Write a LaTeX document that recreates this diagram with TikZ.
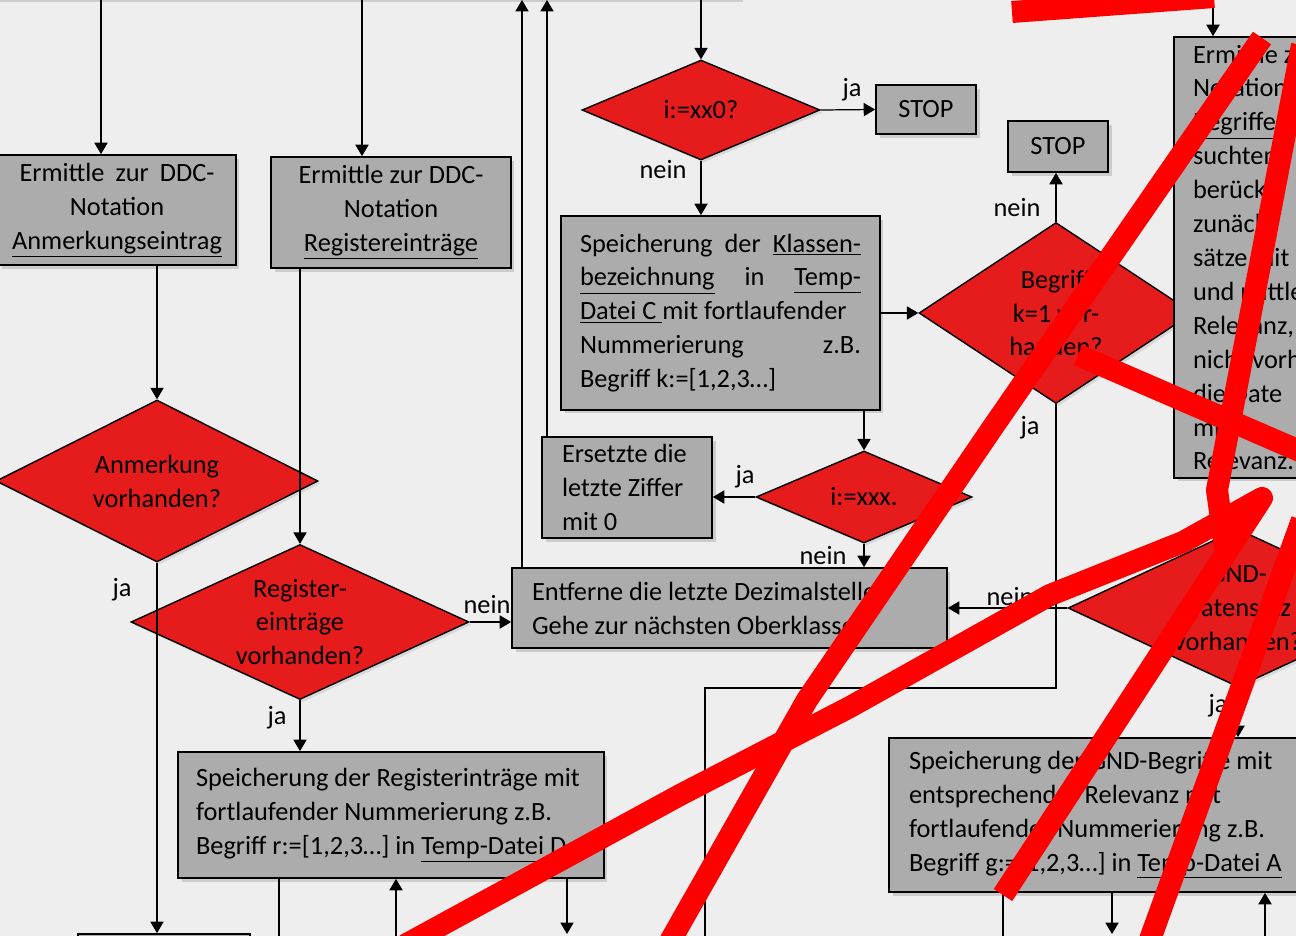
\documentclass[tikz,border=0pt]{standalone}
\usepackage{fontspec}
\setmainfont{Carlito}
\usetikzlibrary{shapes.geometric,arrows.meta,shadows}
\definecolor{bggray}{HTML}{EEEEEE}
\definecolor{boxgray}{HTML}{ACACAC}
\definecolor{decred}{HTML}{E61C1C}
\definecolor{scribble}{HTML}{FF0000}
\newcommand{\txt}{\fontsize{15}{19.3}\selectfont}
\newcommand{\jline}[1]{{\spaceskip=0pt\xspaceskip=0pt\makebox[5.62cm][s]{#1}}}

\begin{document}
\begin{tikzpicture}[x=0.02cm,y=-0.02cm,
    every node/.style={font=\txt,execute at begin node={\spaceskip=0pt\xspaceskip=0pt}},
    box/.style={draw,line width=1pt,fill=boxgray,inner sep=0pt,
      drop shadow={shadow xshift=2pt,shadow yshift=-2pt,opacity=0.3}},
    lbox/.style={box,align=left,inner xsep=0.4cm},
    dec/.style={diamond,draw,line width=0.8pt,fill=decred,inner sep=0pt,
      drop shadow={shadow xshift=1.5pt,shadow yshift=-1.5pt,opacity=0.2}},
    arr/.style={line width=0.7pt,-{Triangle[length=6.5pt,width=7.5pt]}},
    ln/.style={line width=0.7pt},
    scrib/.style={draw=scribble,line width=0.44cm,line join=round}]
      \useasboundingbox (0,0) rectangle (1296,936);
      \fill[bggray] (0,0) rectangle (1296,936);
      \draw
        (360,-42) node[box,minimum width=15.2cm,minimum height=1.6cm] (bTop) {}
        (164,984) node[box,minimum width=3.44cm,minimum height=2cm] (bBot) {};
      \draw
        (157,481) node[dec,minimum width=6.44cm,minimum height=3.24cm,
          label={[align=center]center:{Anmerkung\\vorhanden?}}] (dAnm) {}
        (300,622) node[dec,minimum width=6.76cm,minimum height=3.1cm,
          label={[align=center]center:{Register-\\einträge\\vorhanden?}}] (dReg) {}
        (701,110) node[dec,minimum width=4.76cm,minimum height=2cm,
          label={center:i:=xx0?}] (dXX0) {}
        (1056,313) node[dec,minimum width=5.48cm,minimum height=3.62cm,
          label={[align=center]center:{Begriff\\k=1 vor-\\handen?}}] (dBeg) {}
        (864,497) node[dec,minimum width=4.32cm,minimum height=1.84cm,
          label={center:i:=xxx.}] (dXXX) {}
        (1238,608) node[dec,minimum width=6.8cm,minimum height=3.16cm,
          label={[align=center]center:{GND-\\Datensatz\\vorhanden?}}] (dGND) {};
      \draw
        (117,210) node[box,minimum width=4.76cm,minimum height=2.2cm,align=center] (bAnm)
          {\makebox[3.9cm][s]{Ermittle zur DDC-}\\Notation\\\underline{Anmerkungseintrag}}
        (391,212.5) node[box,minimum width=4.8cm,minimum height=2.22cm,align=center] (bReg)
          {Ermittle zur DDC-\\Notation\\\underline{Registereinträge}}
        (720.5,313) node[lbox,text width=5.62cm,inner xsep=0.38cm,minimum height=3.88cm] (bKla)
          {\jline{Speicherung der \underline{Klassen-}}\\
           \jline{\underline{bezeichnung} in \underline{Temp-}}\\
           \underline{Datei C\ }mit fortlaufender\\
           \jline{Nummerierung z.B.}\\
           Begriff k:=[1,2,3…]}
        (926,109.5) node[box,minimum width=2cm,minimum height=0.98cm] (bStop1) {STOP}
        (1058,146.5) node[box,minimum width=2cm,minimum height=1.02cm] (bStop2) {STOP}
        (627,487.5) node[lbox,text width=2.6cm,minimum height=2.02cm] (bErs)
          {Ersetzte die\\letzte Ziffer\\mit 0}
        (729.5,608) node[lbox,text width=7.9cm,minimum height=1.6cm] (bEnt)
          {Entferne die letzte Dezimalstelle\\Gehe zur nächsten Oberklasse}
        (391,815) node[lbox,inner xsep=0.36cm,text width=7.8cm,minimum height=2.52cm] (bSpR)
          {Speicherung der Registerinträge mit\\fortlaufender Nummerierung z.B.\\
           Begriff r:=[1,2,3…] in \underline{Temp-Datei D}}
        (1109.5,815) node[lbox,text width=8.02cm,minimum height=3.08cm] (bSpG)
          {Speicherung der GND-Begriffe mit\\entsprechender Relevanz mit\\
           fortlaufender Nummerierung z.B.\\Begriff g:=[1,2,3…] in \underline{Temp-Datei A}}
        (1257,257.5) node[lbox,inner xsep=0.38cm,text width=2.56cm,minimum height=8.82cm] (bRight)
          {Ermittle z\\Notation\\\underline{Begriffe} z\\suchten\\berücks\\zunäch\\sätze mit\\
           und mittle\\Relevanz,\\nicht vorh\\die Date\\mit\\Relevanz.};
      \coordinate (tA) at (101,0);
      \coordinate (tB) at (362,0);
      \coordinate (tC) at (522,0);
      \coordinate (tD) at (547,0);
      \coordinate (tE) at (701,0);
      \coordinate (tF) at (1213,0);
      \coordinate (sA) at (279,936);
      \coordinate (sB) at (396,936);
      \coordinate (sC) at (567,934);
      \coordinate (gA) at (1003,936);
      \coordinate (gB) at (1112,934);
      \coordinate (gC) at (1265,936);
      \coordinate (cBend) at (705,688);
      \coordinate (cOut) at (705,936);
      \draw[arr] (tA) -- (tA |- bAnm.north);
      \draw[arr] (tB) -- (tB |- bReg.north);
      \draw[arr] (dAnm.north |- bAnm.south) -- (dAnm.north);
      \draw[arr] (dReg.north |- bReg.south) -- (dReg.north);
      \draw[arr] (dAnm.south) -- (dAnm.south |- bBot.north);
      \draw[arr] (dReg.east) -- (dReg.east -| bEnt.west);
      \draw[arr] (dReg.south) -- (dReg.south |- bSpR.north);
      \draw[ln] (bSpR.south -| sA) -- (sA);
      \draw[arr] (sB) -- (bSpR.south -| sB);
      \draw[arr] (bSpR.south -| sC) -- (sC);
      \draw[arr] (tE) -- (dXX0.north);
      \draw[arr] (dXX0.east) -- (bStop1.west);
      \draw[arr] (dXX0.south) -- (dXX0.south |- bKla.north);
      \draw[arr] (bKla.east) -- (dBeg.west);
      \draw[arr] (dBeg.north) -- (dBeg.north |- bStop2.south);
      \draw[ln] (dBeg.south) |- (cBend) -- (cOut);
      \draw[arr] (bKla.south -| dXXX.north) -- (dXXX.north);
      \draw[arr] (dXXX.west) -- (dXXX.west -| bErs.east);
      \draw[arr] (dXXX.south) -- (dXXX.south |- bEnt.north);
      \draw[arr] (bErs.north -| tD) -- (tD);
      \draw[arr] (bEnt.north -| tC) -- (tC);
      \draw[arr] (dGND.west) -- (dGND.west -| bEnt.east);
      \draw[arr] (dGND.south) -- (dGND.south |- bSpG.north);
      \draw[arr] (tF) -- (tF |- bRight.north);
      \draw[ln] (bSpG.south -| gA) -- (gA);
      \draw[arr] (bSpG.south -| gB) -- (gB);
      \draw[arr] (gC) -- (bSpG.south -| gC);
      \draw
        (122,590) node (lAnmJa) {ja}
        (487,605) node (lRegNein) {nein}
        (277,718) node (lRegJa) {ja}
        (852,90) node (lXX0Ja) {ja}
        (663,170) node (lXX0Nein) {nein}
        (1017,208) node (lBegNein) {nein}
        (1030,428) node (lBegJa) {ja}
        (745,477) node (lXXXJa) {ja}
        (823,556) node (lXXXNein) {nein}
        (1010,597) node (lGNDNein) {nein}
        (1218,706) node (lGNDJa) {ja};
      \draw[scrib] (1012,12) -- (1214,-3);
      \draw[scrib] (1262,38) -- (993,427) -- (807,700) -- (668,945);
      \draw[scrib] (405,945) -- (680,795) -- (850,707) -- (1050,595) -- (1183,542)
        -- (1262,498) -- (1003,895);
      \draw[scrib] (1302,45) -- (1217,490) -- (1226,556);
      \draw[scrib] (1078,355) -- (1302,452);
      \draw[scrib] (1302,520) -- (1148,945);
    \end{tikzpicture}
\end{document}
